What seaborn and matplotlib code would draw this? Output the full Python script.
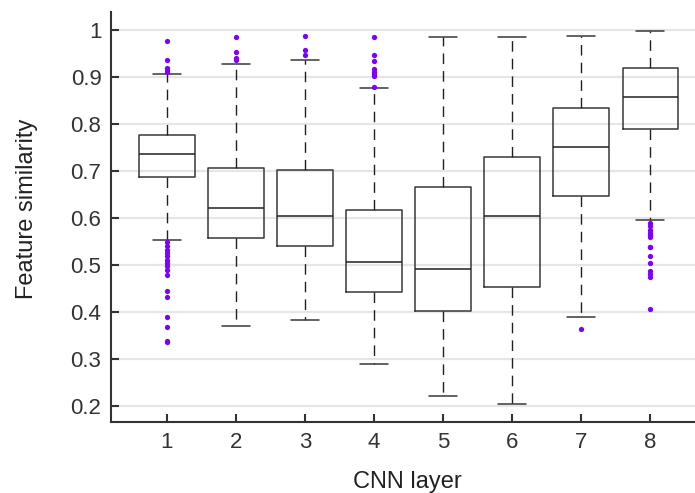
import numpy as np
import pandas as pd
import matplotlib
matplotlib.use("Agg")
import matplotlib.pyplot as plt
import seaborn as sns

layers = [1, 2, 3, 4, 5, 6, 7, 8]
whisker_lo = [0.553, 0.370, 0.383, 0.290, 0.220, 0.204, 0.390, 0.595]
q1 = [0.687, 0.557, 0.541, 0.442, 0.402, 0.453, 0.647, 0.790]
median = [0.735, 0.622, 0.604, 0.507, 0.491, 0.604, 0.750, 0.857]
q3 = [0.777, 0.706, 0.701, 0.616, 0.665, 0.730, 0.833, 0.919]
whisker_hi = [0.907, 0.927, 0.936, 0.876, 0.984, 0.986, 0.987, 0.997]
outliers = {
    1: [0.976, 0.935, 0.918, 0.915, 0.911,
        0.548, 0.540, 0.532, 0.525, 0.518, 0.510, 0.503, 0.497, 0.490,
        0.479, 0.445, 0.431, 0.389, 0.367, 0.338, 0.335],
    2: [0.984, 0.952, 0.941, 0.936],
    3: [0.987, 0.957, 0.947],
    4: [0.984, 0.946, 0.933, 0.916, 0.911, 0.906, 0.901, 0.878],
    5: [],
    6: [],
    7: [0.363],
    8: [0.589, 0.582, 0.574, 0.567, 0.564, 0.560, 0.539, 0.538,
        0.518, 0.505, 0.486, 0.481, 0.475, 0.407],
}

# five-number summaries as data (5 points -> exact quartiles with linear interpolation)
rows = []
for i, L in enumerate(layers):
    for v in (whisker_lo[i], q1[i], median[i], q3[i], whisker_hi[i]):
        rows.append({"layer": str(L), "sim": v})
box_df = pd.DataFrame(rows)

out_rows = [{"layer": str(L), "sim": v} for L in layers for v in outliers[L]]
out_df = pd.DataFrame(out_rows)

sns.set_theme(style="white")
plt.rcParams["font.family"] = ["Liberation Sans", "DejaVu Sans"]

fig = plt.figure(figsize=(6.95, 4.93), dpi=100)
ax = fig.add_axes([0.160, 0.1435, 0.840, 0.832])

order = [str(L) for L in layers]
edge = "#383838"
sns.boxplot(data=box_df, x="layer", y="sim", order=order, ax=ax,
            whis=(0, 100), showfliers=False, width=0.8, fill=False,
            color=edge, linewidth=1.1,
            boxprops=dict(color=edge, linewidth=1.1),
            medianprops=dict(color="#202020", linewidth=1.1),
            whiskerprops=dict(color="#202020", linewidth=1.0, linestyle=(0, (7.6, 5.1))),
            capprops=dict(color="#383838", linewidth=1.1))

sns.stripplot(data=out_df, x="layer", y="sim", order=order, ax=ax,
              jitter=False, color="#7b00ff", size=3.8, linewidth=0, zorder=5)

ax.set_xlim(-0.807, 7.65)
ax.set_ylim(0.165, 1.038)
ax.set_yticks([0.2, 0.3, 0.4, 0.5, 0.6, 0.7, 0.8, 0.9, 1.0])
ax.set_yticklabels(["0.2", "0.3", "0.4", "0.5", "0.6", "0.7", "0.8", "0.9", "1"])
ax.yaxis.grid(True, color="#e6e6e6", linewidth=1.6)
ax.set_axisbelow(True)

for s in ["top", "right"]:
    ax.spines[s].set_visible(False)
for s in ["left", "bottom"]:
    ax.spines[s].set_color("#333333")
    ax.spines[s].set_linewidth(1.5)

ax.tick_params(axis="both", direction="in", length=6, width=1.5, color="#333333",
               labelsize=16, labelcolor="#333333", pad=7, left=True, bottom=True)
ax.set_xlabel("CNN layer", fontsize=17, color="#222222")
ax.set_ylabel("Feature similarity", fontsize=17, color="#222222")
ax.xaxis.set_label_coords(0.5065, -0.118)
ax.yaxis.set_label_coords(-0.125, 0.52)

fig.savefig("out.png", dpi=100)
